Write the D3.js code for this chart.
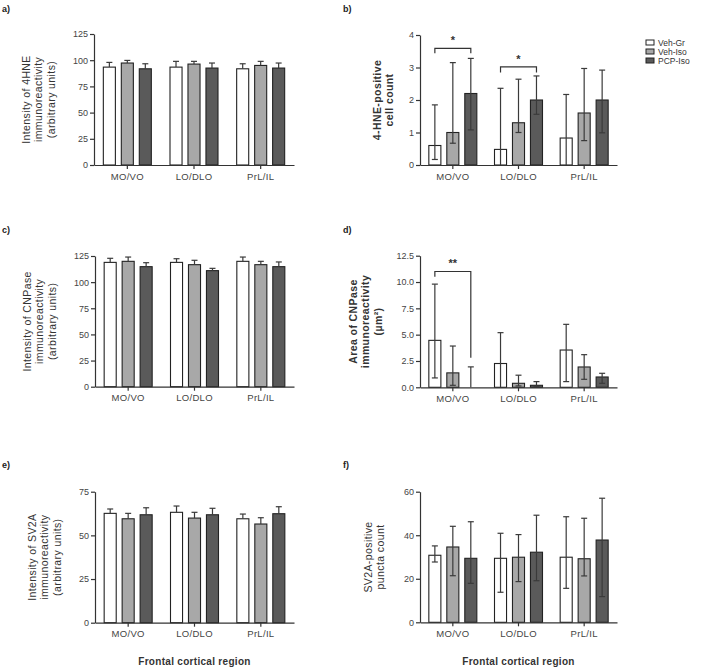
<!DOCTYPE html>
<html>
<head>
<meta charset="utf-8">
<script src="https://cdn.jsdelivr.net/npm/d3@7"></script>
<style>
  body { margin: 0; background: #fff; }
  text { font-family: "Liberation Sans", Arial, sans-serif; }
</style>
</head>
<body>
<div id="container"></div>
<script>
let w = 708;
let h = 669;

// categories
const regions = ["MO/VO", "LO/DLO", "PrL/IL"];
const groups = ["Veh-Gr", "Veh-Iso", "PCP-Iso"];

// a) intensity of 4HNE  (rows = region, cols = group)
const hneIntensityMean  = [[93.4, 97.3, 91.8], [93.4, 96.3, 92.5], [91.8, 95.0, 92.5]];
const hneIntensityUpper = [[97.9, 99.8, 96.6], [98.9, 98.9, 97.3], [96.6, 98.9, 97.3]];
const hneIntensityTicks = [0, 25, 50, 75, 100, 125];

// b) 4-HNE-positive cell count
const hneCountMean  = [[0.6, 1.0, 2.2], [0.48, 1.3, 2.0], [0.83, 1.6, 2.0]];
const hneCountUpper = [[1.85, 3.15, 3.28], [2.36, 2.64, 2.74], [2.17, 2.97, 2.92]];
const hneCountLower = [[0.17, 0.67, 1.08], [0, 1.0, 1.56], [0, 0.75, 0.99]];
const hneCountTicks = [0, 1, 2, 3, 4];
const hneCountSig = [
  {region: "MO/VO", from: 0, to: 2, level: 3.59, dropL: 3.44, dropR: 3.44, label: "*"},
  {region: "LO/DLO", from: 0, to: 2, level: 3.02, dropL: 2.85, dropR: 2.85, label: "*"}
];

// c) intensity of CNPase
const cnpIntensityMean  = [[118.9, 119.9, 114.8], [118.9, 116.7, 111.0], [119.9, 116.7, 114.8]];
const cnpIntensityUpper = [[122.8, 124.0, 118.6], [122.4, 120.9, 113.2], [124.0, 119.9, 119.3]];
const cnpIntensityTicks = [0, 25, 50, 75, 100, 125];

// d) area of CNPase
const cnpAreaMean  = [[4.46, 1.37, 0], [2.26, 0.38, 0.19], [3.54, 1.93, 0.98]];
const cnpAreaUpper = [[9.8, 3.92, 1.94], [5.19, 1.15, 0.54], [5.98, 3.1, 1.33]];
const cnpAreaLower = [[0.89, 0.19, 0], [0, 0.13, 0.1], [0.54, 0.76, 0.38]];
const cnpAreaTicks = [0, 2.5, 5, 7.5, 10, 12.5];
const cnpAreaSig = [
  {region: "MO/VO", from: 0, to: 2, level: 11.0, dropL: 10.5, dropR: 2.8, label: "**"}
];

// e) intensity of SV2A
const sv2aIntensityMean  = [[62.6, 59.5, 61.8], [63.2, 59.9, 61.8], [59.5, 56.5, 62.4]];
const sv2aIntensityUpper = [[65.1, 62.6, 65.8], [66.8, 63.2, 65.5], [62.2, 60.1, 66.4]];
const sv2aIntensityTicks = [0, 25, 50, 75];

// f) SV2A-positive puncta count
const sv2aCountMean  = [[30.8, 34.6, 29.4], [29.4, 29.9, 32.2], [29.9, 29.2, 37.8]];
const sv2aCountUpper = [[35.1, 44.1, 46.2], [40.9, 40.3, 49.2], [48.5, 47.8, 57.0]];
const sv2aCountLower = [[27.7, 21.4, 17.9], [13.8, 18.7, 19.1], [15.6, 21.3, 11.8]];
const sv2aCountTicks = [0, 20, 40, 60];

const fills = ["#ffffff", "#a8a8a8", "#5a5a5a"];

let viz = d3.select("#container").append("svg")
  .attr("width", w)
  .attr("height", h)
  .style("background-color", "white");

// panel layout
let panels = [
  {tag: "a)", tagX: 2, tagY: 12, x0: 94, x1: 294, top: 34, bottom: 165,
   ticks: hneIntensityTicks, fmt: d3.format("d"), mean: hneIntensityMean, upper: hneIntensityUpper, lower: null,
   label: ["Intensity of 4HNE", "immunoreactivity", "(arbitrary units)"], labelX: 38, bold: false},
  {tag: "b)", tagX: 343, tagY: 12, x0: 420, x1: 617, top: 35, bottom: 165,
   ticks: hneCountTicks, fmt: d3.format("d"), mean: hneCountMean, upper: hneCountUpper, lower: hneCountLower,
   label: ["4-HNE-positive", "cell count"], labelX: 383, bold: true, sig: hneCountSig},
  {tag: "c)", tagX: 2, tagY: 233, x0: 95, x1: 294, top: 256, bottom: 386.7,
   ticks: cnpIntensityTicks, fmt: d3.format("d"), mean: cnpIntensityMean, upper: cnpIntensityUpper, lower: null,
   label: ["Intensity of CNPase", "immunoreactivity", "(arbitrary units)"], labelX: 39, bold: false},
  {tag: "d)", tagX: 343, tagY: 233, x0: 420, x1: 617, top: 255.7, bottom: 387.3,
   ticks: cnpAreaTicks, fmt: d3.format(".1f"), mean: cnpAreaMean, upper: cnpAreaUpper, lower: cnpAreaLower,
   label: ["Area of CNPase", "immunoreactivity", "(µm²)"], labelX: 365, bold: true, sig: cnpAreaSig},
  {tag: "e)", tagX: 2, tagY: 468, x0: 95, x1: 294, top: 491.7, bottom: 622.7,
   ticks: sv2aIntensityTicks, fmt: d3.format("d"), mean: sv2aIntensityMean, upper: sv2aIntensityUpper, lower: null,
   label: ["Intensity of SV2A", "immunoreactivity", "(arbitrary units)"], labelX: 44, bold: false, xTitle: true},
  {tag: "f)", tagX: 343, tagY: 468, x0: 420, x1: 617, top: 491.7, bottom: 622.3,
   ticks: sv2aCountTicks, fmt: d3.format("d"), mean: sv2aCountMean, upper: sv2aCountUpper, lower: sv2aCountLower,
   label: ["SV2A-positive", "puncta count"], labelX: 374, bold: false, xTitle: true}
];

panels.forEach(function(p){
  let g = viz.append("g");

  let xScale = d3.scaleBand().domain(regions).range([p.x0, p.x1]);
  let xInner = d3.scaleBand().domain(groups).range([-24, 24]).paddingInner(0.33);
  let yScale = d3.scaleLinear().domain([0, d3.max(p.ticks)]).range([p.bottom, p.top]);

  // panel letter
  g.append("text")
    .attr("x", p.tagX).attr("y", p.tagY)
    .attr("font-size", 9).attr("font-weight", "bold").attr("fill", "#222")
    .text(p.tag);

  // flatten to bar records
  let bars = [];
  regions.forEach(function(r, i){
    groups.forEach(function(s, j){
      bars.push({region: r, group: s, j: j, mean: p.mean[i][j], upper: p.upper[i][j],
                 lower: p.lower ? p.lower[i][j] : null});
    });
  });

  function cx(d){ return xScale(d.region) + xScale.bandwidth() / 2 + xInner(d.group) + xInner.bandwidth() / 2; }

  // bars
  g.selectAll(".bar").data(bars).enter()
    .append("rect")
    .attr("class", "bar")
    .attr("x", function(d){ return xScale(d.region) + xScale.bandwidth() / 2 + xInner(d.group); })
    .attr("width", xInner.bandwidth())
    .attr("y", function(d){ return yScale(d.mean); })
    .attr("height", function(d){ return yScale(0) - yScale(d.mean); })
    .attr("fill", function(d){ return fills[d.j]; })
    .attr("stroke", "#222")
    .attr("stroke-width", 1.1);

  // error bars
  let err = g.selectAll(".err").data(bars).enter().append("g").attr("class", "err")
    .attr("stroke", "#3a3a3a").attr("stroke-width", 1.2);
  err.append("line")
    .attr("x1", cx).attr("x2", cx)
    .attr("y1", function(d){ return yScale(d.lower == null ? d.mean : d.lower); })
    .attr("y2", function(d){ return yScale(d.upper); });
  err.append("line")
    .attr("x1", function(d){ return cx(d) - 3; }).attr("x2", function(d){ return cx(d) + 3; })
    .attr("y1", function(d){ return yScale(d.upper); })
    .attr("y2", function(d){ return yScale(d.upper); });
  err.filter(function(d){ return d.lower != null && d.lower > 0; })
    .append("line")
    .attr("x1", function(d){ return cx(d) - 3; }).attr("x2", function(d){ return cx(d) + 3; })
    .attr("y1", function(d){ return yScale(d.lower); })
    .attr("y2", function(d){ return yScale(d.lower); });

  // axes
  let yAxis = g.append("g")
    .attr("transform", "translate(" + p.x0 + ",0)")
    .call(d3.axisLeft(yScale).tickValues(p.ticks).tickFormat(p.fmt).tickSize(4).tickSizeOuter(0).tickPadding(2));
  let xAxis = g.append("g")
    .attr("transform", "translate(0," + p.bottom + ")")
    .call(d3.axisBottom(xScale).tickSize(4).tickSizeOuter(0).tickPadding(4));
  [yAxis, xAxis].forEach(function(a){
    a.selectAll("path, line").attr("stroke", "#333").attr("stroke-width", 1.2);
    a.selectAll("text").attr("fill", "#444").attr("font-family", "Liberation Sans, Arial, sans-serif");
  });
  yAxis.selectAll("text").attr("font-size", 9);
  xAxis.selectAll("text").attr("font-size", 9.5).attr("letter-spacing", 0.3);

  // y label
  let cy = (p.top + p.bottom) / 2;
  let n = p.label.length;
  g.selectAll(".ylab").data(p.label).enter()
    .append("text")
    .attr("class", "ylab")
    .attr("transform", function(d, i){
      let x = p.labelX + (i - (n - 1) / 2) * 12.5 + 4;
      return "translate(" + x + "," + cy + ") rotate(-90)";
    })
    .attr("text-anchor", "middle")
    .attr("font-size", 10.5)
    .attr("letter-spacing", 0.4)
    .attr("font-weight", p.bold ? "bold" : "normal")
    .attr("fill", "#333")
    .text(function(d){ return d; });

  // significance brackets
  if (p.sig) {
    p.sig.forEach(function(s){
      let xa = cx({region: s.region, group: groups[s.from]});
      let xb = cx({region: s.region, group: groups[s.to]});
      g.append("path")
        .attr("d", "M" + xa + "," + yScale(s.dropL) + "V" + yScale(s.level) + "H" + xb + "V" + yScale(s.dropR))
        .attr("fill", "none").attr("stroke", "#333").attr("stroke-width", 1.2);
      g.append("text")
        .attr("x", (xa + xb) / 2).attr("y", yScale(s.level) - 4)
        .attr("text-anchor", "middle").attr("font-size", 11).attr("font-weight", "bold").attr("fill", "#333")
        .text(s.label);
    });
  }

  if (p.xTitle) {
    g.append("text")
      .attr("x", (p.x0 + p.x1) / 2).attr("y", 665)
      .attr("text-anchor", "middle").attr("font-size", 10).attr("font-weight", "bold")
      .attr("letter-spacing", 0.3).attr("fill", "#333")
      .text("Frontal cortical region");
  }
});

// legend
let legend = viz.append("g").attr("transform", "translate(646,39)");
groups.forEach(function(s, j){
  let row = legend.append("g").attr("transform", "translate(0," + (j * 9) + ")");
  row.append("rect").attr("x", 0).attr("y", 1).attr("width", 8).attr("height", 5)
    .attr("fill", fills[j]).attr("stroke", "#222").attr("stroke-width", 1);
  row.append("text").attr("x", 12).attr("y", 7)
    .attr("font-size", 8.5).attr("fill", "#333").text(s);
});
</script>
</body>
</html>
